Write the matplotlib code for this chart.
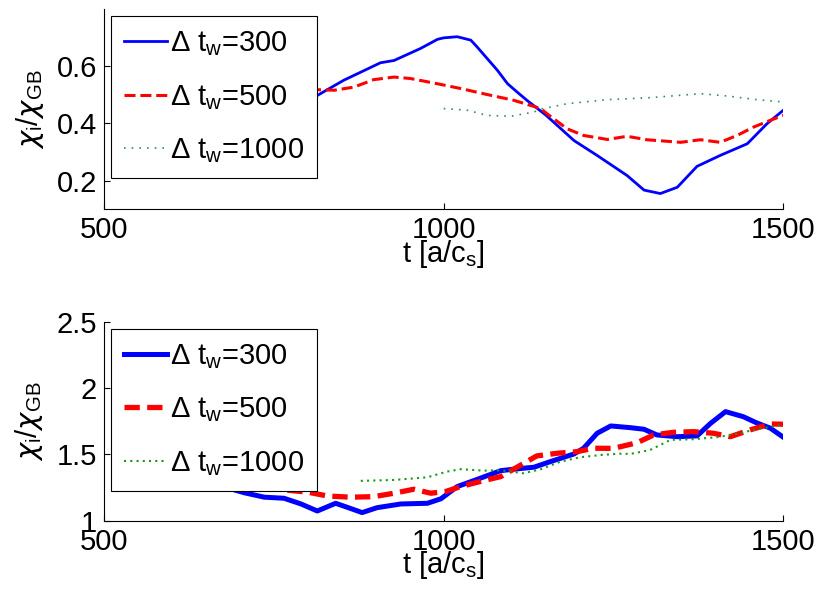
import matplotlib

matplotlib.use("Agg")
import matplotlib.pyplot as plt

plt.rcParams["font.family"] = ["Liberation Sans", "DejaVu Sans"]
plt.rcParams["mathtext.fontset"] = "custom"
plt.rcParams["mathtext.rm"] = "Liberation Sans"
plt.rcParams["mathtext.it"] = "DejaVu Sans:italic"

labels = ["Δ t$_\\mathrm{w}$=300", "Δ t$_\\mathrm{w}$=500", "Δ t$_\\mathrm{w}$=1000"]

# top panel
top_t300 = [770, 812, 853, 907, 927, 966, 991, 1000, 1020, 1040, 1049, 1064, 1079, 1094, 1108,
            1123, 1150, 1192, 1226, 1270, 1295, 1319, 1344, 1373, 1407, 1447, 1476, 1500]
top_v300 = [0.45, 0.495, 0.551, 0.612, 0.62, 0.662, 0.694, 0.699, 0.703, 0.691, 0.668, 0.627,
            0.586, 0.539, 0.51, 0.48, 0.43, 0.34, 0.288, 0.218, 0.167, 0.155, 0.177, 0.25,
            0.288, 0.329, 0.399, 0.446]
top_t500 = [780, 812, 839, 868, 897, 927, 951, 986, 1025, 1064, 1103, 1143, 1152, 1182, 1206,
            1241, 1270, 1299, 1349, 1378, 1407, 1432, 1456, 1481, 1500]
top_v500 = [0.51, 0.518, 0.516, 0.527, 0.553, 0.562, 0.557, 0.541, 0.522, 0.501, 0.481, 0.452,
            0.434, 0.381, 0.358, 0.344, 0.355, 0.343, 0.334, 0.343, 0.334, 0.358, 0.387, 0.411, 0.428]
top_t1000 = [1000, 1035, 1064, 1099, 1133, 1143, 1182, 1241, 1304, 1378, 1417, 1461, 1500]
top_v1000 = [0.452, 0.446, 0.428, 0.425, 0.44, 0.45, 0.469, 0.483, 0.49, 0.504, 0.496, 0.483, 0.475]

# bottom panel
bot_t300 = [680, 706, 736, 765, 790, 814, 841, 858, 880, 902, 937, 976, 996, 1020, 1054, 1084,
            1103, 1133, 1157, 1192, 1206, 1226, 1246, 1275, 1295, 1314, 1344, 1373, 1393, 1415,
            1441, 1460, 1481, 1500]
bot_v300 = [1.25, 1.211, 1.177, 1.169, 1.126, 1.073, 1.131, 1.101, 1.061, 1.098, 1.126, 1.131,
            1.165, 1.257, 1.32, 1.377, 1.388, 1.403, 1.445, 1.503, 1.546, 1.659, 1.714, 1.701,
            1.689, 1.646, 1.633, 1.639, 1.734, 1.822, 1.784, 1.739, 1.697, 1.629]
bot_t500 = [770, 800, 829, 863, 897, 927, 956, 981, 1003, 1025, 1059, 1084, 1108, 1137, 1167,
            1196, 1221, 1250, 1285, 1309, 1338, 1368, 1397, 1422, 1451, 1481, 1500]
bot_v500 = [1.23, 1.215, 1.186, 1.177, 1.181, 1.207, 1.237, 1.207, 1.22, 1.257, 1.302, 1.332,
            1.403, 1.488, 1.508, 1.52, 1.546, 1.545, 1.588, 1.646, 1.666, 1.671, 1.659, 1.633,
            1.684, 1.729, 1.727]
bot_t1000 = [878, 927, 976, 1005, 1025, 1059, 1084, 1118, 1143, 1172, 1201, 1231, 1260, 1275,
             1304, 1334, 1368, 1402, 1432, 1460, 1500]
bot_v1000 = [1.30, 1.307, 1.327, 1.37, 1.388, 1.377, 1.38, 1.357, 1.388, 1.445, 1.478, 1.495,
             1.505, 1.503, 1.533, 1.609, 1.614, 1.629, 1.654, 1.689, 1.722]


def style_axes(ax, ylim, yticks, yticklabels):
    ax.set_xlim(500, 1500)
    ax.set_ylim(*ylim)
    ax.set_xticks([500, 1000, 1500])
    ax.set_xticklabels(["500", "1000", "1500"])
    ax.set_yticks(yticks)
    ax.set_yticklabels(yticklabels)
    for side in ("top", "right"):
        ax.spines[side].set_visible(False)
    for side in ("left", "bottom"):
        ax.spines[side].set_linewidth(0.8)
    ax.tick_params(direction="in", length=4, width=0.8, labelsize=21, pad=5)
    ax.set_xlabel("t [a/c$_\\mathrm{s}$]", fontsize=21, labelpad=-4.5)
    ax.set_ylabel("$\\chi_\\mathrm{i}\\mathrm{/}\\chi_\\mathrm{GB}$", fontsize=21, labelpad=8)


def add_legend(ax):
    leg = ax.legend(loc="upper left", fontsize=21, handlelength=1.45, handletextpad=0.12,
                    labelspacing=0.85, borderpad=0.45, borderaxespad=0.25,
                    fancybox=False, framealpha=1, edgecolor="black")
    leg.get_frame().set_linewidth(0.8)


fig = plt.figure(figsize=(8.19, 5.90), dpi=100)
ax1 = fig.add_axes([0.127, 0.6453, 0.8294, 0.3395])
ax2 = fig.add_axes([0.127, 0.1175, 0.8294, 0.3373])

ax1.plot(top_t300, top_v300, color="#0000ff", lw=2.0, label=labels[0])
ax1.plot(top_t500, top_v500, color="#ff0000", lw=2.2, linestyle=(0, (3.6, 1.6)), label=labels[1])
ax1.plot(top_t1000, top_v1000, color="#3a8a6a", lw=1.2, linestyle=(0, (1, 3.6)), label=labels[2])
style_axes(ax1, (0.1, 0.8), [0.2, 0.4, 0.6], ["0.2", "0.4", "0.6"])
add_legend(ax1)

ax2.plot(bot_t300, bot_v300, color="#0000ff", lw=3.6, label=labels[0])
ax2.plot(bot_t500, bot_v500, color="#ff0000", lw=3.8, linestyle=(0, (2.9, 1.4)), label=labels[1])
ax2.plot(bot_t1000, bot_v1000, color="#1a9a1a", lw=1.5, linestyle=(0, (1, 2)), label=labels[2])
style_axes(ax2, (1.0, 2.5), [1, 1.5, 2, 2.5], ["1", "1.5", "2", "2.5"])
add_legend(ax2)

fig.savefig("out.png", dpi=100)
